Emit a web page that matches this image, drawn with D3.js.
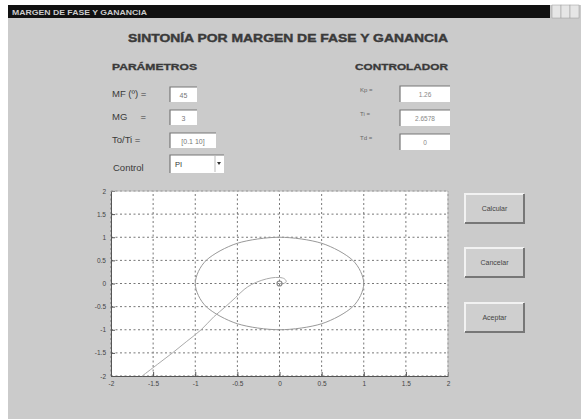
<!DOCTYPE html>
<html lang="es">
<head>
<meta charset="UTF-8">
<title>Sintonía por margen de fase y ganancia</title>
<style>
    body { margin: 0; background: #fff; }
    svg { display: block; font-family: "Liberation Sans", Arial, sans-serif; }
</style>
</head>
<body>
<script src="https://cdn.jsdelivr.net/npm/d3@7"></script>
<script>

    var nyqRe = [-1.63, -1.45, -1.27, -1.10, -0.93, -0.78, -0.64, -0.52, -0.42, -0.33, -0.21, -0.10, 0.00, 0.06, 0.08, 0.05, 0.00];
    var nyqIm = [-2.00, -1.75, -1.50, -1.25, -1.00, -0.72, -0.50, -0.30, -0.13, -0.02, 0.07, 0.12, 0.13, 0.10, 0.04, 0.00, 0.00];

    // unit circle, points
    var circRe = [1, 0.87, 0.5, 0, -0.5, -0.87, -1, -0.87, -0.5, 0, 0.5, 0.87];
    var circIm = [0, 0.5, 0.87, 1, 0.87, 0.5, 0, -0.5, -0.87, -1, -0.87, -0.5];

    var ticks = [-2, -1.5, -1, -0.5, 0, 0.5, 1, 1.5, 2];
    var tickLabels = ['-2', '-1.5', '-1', '-0.5', '0', '0.5', '1', '1.5', '2'];

    var paramLabels = ['MF (º) =', 'MG     =', 'To/Ti ='];
    var paramValues = ['45', '3', '[0.1 10]'];
    var ctrlLabels = ['Kp =', 'Ti =', 'Td ='];
    var ctrlValues = ['1.26', '2.6578', '0'];
    var buttons = ['Calcular', 'Cancelar', 'Aceptar'];

    var width = 581,
        height = 419;

    var svg = d3.select('body').append('svg')
        .attr('width', width)
        .attr('height', height);

    // window
    svg.append('rect').attr('x', 0).attr('y', 0).attr('width', width).attr('height', height).attr('fill', '#fff');
    svg.append('rect').attr('x', 8).attr('y', 5).attr('width', width - 8).attr('height', height - 5).attr('fill', '#cbcbcb');
    svg.append('rect').attr('x', 8).attr('y', 5).attr('width', 542).attr('height', 13).attr('fill', '#111');
    svg.append('text').attr('x', 12).attr('y', 14.5)
        .attr('font-size', 7).attr('font-weight', 'bold').attr('fill', '#ccc')
        .attr('textLength', 135).attr('lengthAdjust', 'spacingAndGlyphs')
        .text('MARGEN DE FASE Y GANANCIA');
    [552, 561, 570].forEach(function (x) {
        svg.append('rect').attr('x', x).attr('y', 5).attr('width', 9).attr('height', 13)
            .attr('fill', '#e6e6e6').attr('stroke', '#999').attr('stroke-width', 0.5);
    });

    // headings
    svg.append('text').attr('x', 128).attr('y', 42)
        .attr('font-size', 11).attr('font-weight', 'bold').attr('fill', '#3a3a3a')
        .attr('stroke', '#3a3a3a').attr('stroke-width', 0.4)
        .attr('textLength', 320).attr('lengthAdjust', 'spacingAndGlyphs')
        .text('SINTONÍA POR MARGEN DE FASE Y GANANCIA');
    svg.append('text').attr('x', 112).attr('y', 70)
        .attr('font-size', 8.5).attr('font-weight', 'bold').attr('fill', '#3a3a3a')
        .attr('stroke', '#3a3a3a').attr('stroke-width', 0.3)
        .attr('textLength', 85).attr('lengthAdjust', 'spacingAndGlyphs')
        .text('PARÁMETROS');
    svg.append('text').attr('x', 355).attr('y', 70)
        .attr('font-size', 8.5).attr('font-weight', 'bold').attr('fill', '#3a3a3a')
        .attr('stroke', '#3a3a3a').attr('stroke-width', 0.3)
        .attr('textLength', 93).attr('lengthAdjust', 'spacingAndGlyphs')
        .text('CONTROLADOR');

    function editBox(x, y, w, h) {
        svg.append('rect').attr('x', x).attr('y', y).attr('width', w).attr('height', h).attr('fill', '#fff');
        svg.append('path').attr('d', 'M' + x + ',' + (y + h) + 'V' + y + 'H' + (x + w))
            .attr('fill', 'none').attr('stroke', '#777').attr('stroke-width', 1.2);
    }

    // parameter fields
    var paramY = [87, 110, 133];
    var paramW = [27, 27, 46];
    paramLabels.forEach(function (d, i) {
        svg.append('text').attr('x', 112).attr('y', paramY[i] + 9.5)
            .attr('font-size', 9.5).attr('fill', '#3a3a3a').attr('xml:space', 'preserve').text(d);
        editBox(170, paramY[i], paramW[i], 15);
        svg.append('text').attr('x', 170 + paramW[i] / 2).attr('y', paramY[i] + 10.5)
            .attr('text-anchor', 'middle').attr('font-size', 7).attr('fill', '#777').text(paramValues[i]);
    });
    svg.append('text').attr('x', 113).attr('y', 171)
        .attr('font-size', 9.5).attr('fill', '#3a3a3a').text('Control');
    editBox(170, 155, 54, 18);
    svg.append('text').attr('x', 175).attr('y', 167).attr('font-size', 7.5).attr('fill', '#333').text('PI');
    svg.append('path').attr('d', 'M217,162L221,162L219,165Z').attr('fill', '#333');
    svg.append('line').attr('x1', 215).attr('x2', 215).attr('y1', 156).attr('y2', 172).attr('stroke', '#bbb');

    // controller fields
    var ctrlY = [86, 110, 134];
    ctrlLabels.forEach(function (d, i) {
        svg.append('text').attr('x', 360).attr('y', ctrlY[i] + 6)
            .attr('font-size', 6).attr('fill', '#666').text(d);
        editBox(400, ctrlY[i], 50, 16);
        svg.append('text').attr('x', 425).attr('y', ctrlY[i] + 10.5)
            .attr('text-anchor', 'middle').attr('font-size', 6.5).attr('fill', '#888').text(ctrlValues[i]);
    });

    // buttons
    var btnY = [194, 248, 303];
    buttons.forEach(function (d, i) {
        var x = 465, y = btnY[i], w = 59, h = 29;
        svg.append('rect').attr('x', x).attr('y', y).attr('width', w).attr('height', h).attr('fill', '#cfcfcf');
        svg.append('path').attr('d', 'M' + x + ',' + (y + h) + 'V' + y + 'H' + (x + w))
            .attr('fill', 'none').attr('stroke', '#f2f2f2').attr('stroke-width', 2);
        svg.append('path').attr('d', 'M' + (x + w) + ',' + y + 'V' + (y + h) + 'H' + x)
            .attr('fill', 'none').attr('stroke', '#777').attr('stroke-width', 2);
        svg.append('text').attr('x', x + w / 2).attr('y', y + h / 2 + 2.5)
            .attr('text-anchor', 'middle').attr('font-size', 7).attr('fill', '#444').text(d);
    });

    // plot
    var x = d3.scaleLinear().domain([-2, 2]).range([111, 448]);
    var y = d3.scaleLinear().domain([-2, 2]).range([376, 191]);

    svg.append('rect').attr('x', x(-2)).attr('y', y(2))
        .attr('width', x(2) - x(-2)).attr('height', y(-2) - y(2)).attr('fill', '#fff');

    var grid = svg.append('g').attr('stroke', '#777').attr('stroke-width', 1).attr('stroke-dasharray', '2,2.5');
    grid.selectAll('.gx').data(ticks).enter().append('line')
        .attr('x1', d => x(d)).attr('x2', d => x(d)).attr('y1', y(-2)).attr('y2', y(2));
    grid.selectAll('.gy').data(ticks).enter().append('line')
        .attr('y1', d => y(d)).attr('y2', d => y(d)).attr('x1', x(-2)).attr('x2', x(2));

    var xAxis = svg.append('g').attr('transform', 'translate(0,' + y(-2) + ')')
        .call(d3.axisBottom(x).tickValues(ticks).tickFormat((d, i) => tickLabels[i]).tickSizeInner(-4).tickSizeOuter(0).tickPadding(5));
    var yAxis = svg.append('g').attr('transform', 'translate(' + x(-2) + ',0)')
        .call(d3.axisLeft(y).tickValues(ticks).tickFormat((d, i) => tickLabels[i]).tickSizeInner(-4).tickSizeOuter(0).tickPadding(5));
    [xAxis, yAxis].forEach(function (a) {
        a.selectAll('path, line').attr('stroke', '#555');
        a.selectAll('text').attr('font-size', 6.5).attr('fill', '#444').attr('font-family', '"Liberation Sans", Arial, sans-serif');
    });
    // top / right box edges
    svg.append('path').attr('d', 'M' + x(-2) + ',' + y(2) + 'H' + x(2) + 'V' + y(-2))
        .attr('fill', 'none').attr('stroke', '#bbb');

    var circ = circRe.map((d, i) => [d, circIm[i]]);
    svg.append('path').datum(circ)
        .attr('fill', 'none').attr('stroke', '#999').attr('stroke-width', 1)
        .attr('d', d3.line().x(d => x(d[0])).y(d => y(d[1])).curve(d3.curveCardinalClosed.tension(0.1)));

    var nyq = nyqRe.map((d, i) => [d, nyqIm[i]]);
    svg.append('path').datum(nyq)
        .attr('fill', 'none').attr('stroke', '#aaa').attr('stroke-width', 1)
        .attr('d', d3.line().x(d => x(d[0])).y(d => y(d[1])).curve(d3.curveCatmullRom));

    svg.append('circle').attr('cx', x(0)).attr('cy', y(0)).attr('r', 2.5)
        .attr('fill', 'none').attr('stroke', '#888').attr('stroke-width', 1.2);
</script>
</body>
</html>
